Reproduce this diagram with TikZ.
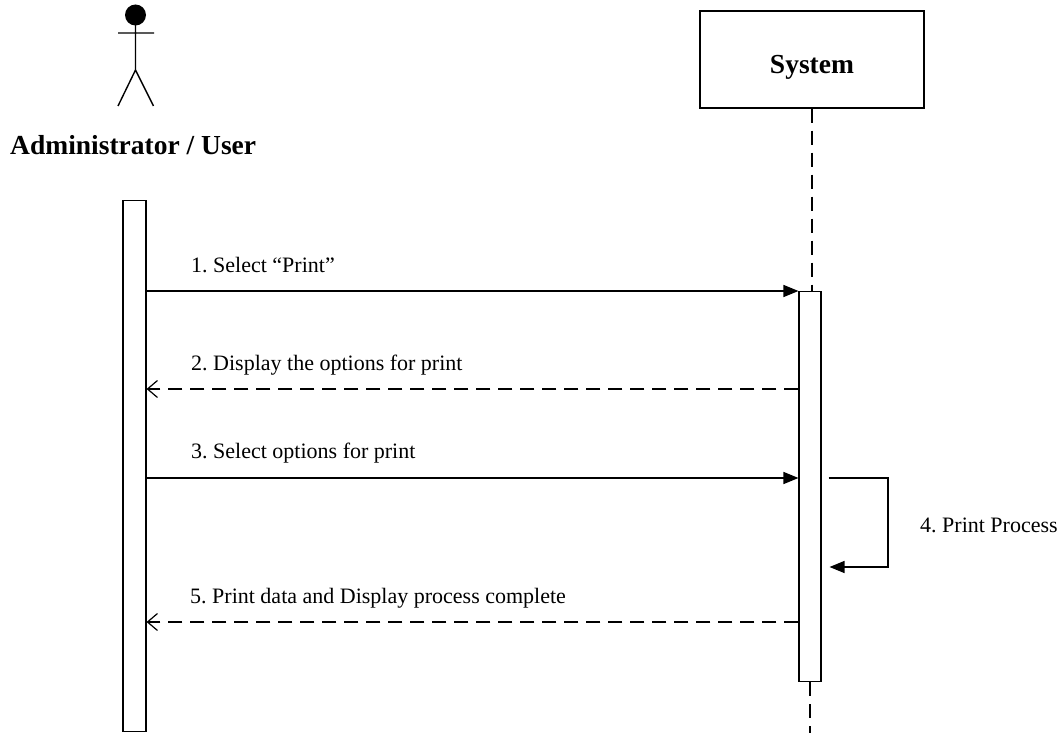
\documentclass[tikz,border=0pt]{standalone}
\usepackage{fontspec}
\setmainfont{Liberation Serif}
\usetikzlibrary{arrows.meta}
\frenchspacing
\begin{document}
\begin{tikzpicture}[x=1pt,y=-1pt,
  lbl/.style={anchor=base west, inner sep=0pt, font=\fontsize{22}{24}\selectfont},
  title/.style={inner sep=0pt, font=\bfseries\fontsize{27.5}{30}\selectfont},
  msg/.style={line width=1.4pt, -{Triangle[length=15pt,width=12pt]}},
  ret/.style={line width=1.4pt, dash pattern=on 14pt off 8pt, -{Straight Barb[length=10pt,width=17pt,line width=1.2pt]}},
  act/.style={draw, line width=1.1pt, fill=white, minimum width=22pt, inner sep=0pt},
  life/.style={line width=1.3pt, dash pattern=on 14pt off 8pt},
  stick/.style={line width=1.4pt}]
\useasboundingbox (0,0) rectangle (1061,733);
% actor
\fill (135.5,15) circle (10.5);
\draw[stick] (135.5,25) -- (135.5,70) (118,33) -- (154,33) (135.5,70) -- (118,106) (135.5,70) -- (153.5,106);
\node[title, anchor=base west] (actorname) at (10,155) {Administrator / User};
% system
\node[draw, line width=1.1pt, minimum width=224pt, minimum height=97pt, inner sep=0pt] (sys) at (812,59.5) {};
\node[title, anchor=base] (sysname) at (812,74) {System};
% activations
\node[act, minimum width=23pt, minimum height=531pt, anchor=north] (ua) at (134.5,200) {};
\node[act, minimum height=390pt, anchor=north] (sa) at (810,291) {};
\draw[life] (sys.south) -- (sys.south |- sa.north);
\draw[life] (sa.south) -- (810,733);
% messages
\draw[msg] (ua.east |- 0,291) -- (sa.west |- 0,291);
\node[lbl] (m1) at (191,272) {1. Select “Print”};
\draw[ret] (sa.west |- 0,389) -- (ua.east |- 0,389);
\node[lbl] (m2) at (191,370) {2. Display the options for print};
\draw[msg] (ua.east |- 0,478) -- (sa.west |- 0,478);
\node[lbl] (m3) at (191,458) {3. Select options for print};
\draw[msg] ([xshift=7pt]sa.east |- 0,478) -- (888,478) -- (888,567) -- ([xshift=8pt]sa.east |- 0,567);
\node[lbl] (m4) at (920,532) {4. Print Process};
\draw[ret] (sa.west |- 0,622) -- (ua.east |- 0,622);
\node[lbl] (m5) at (190,603) {5. Print data and Display process complete};
\end{tikzpicture}
\end{document}
